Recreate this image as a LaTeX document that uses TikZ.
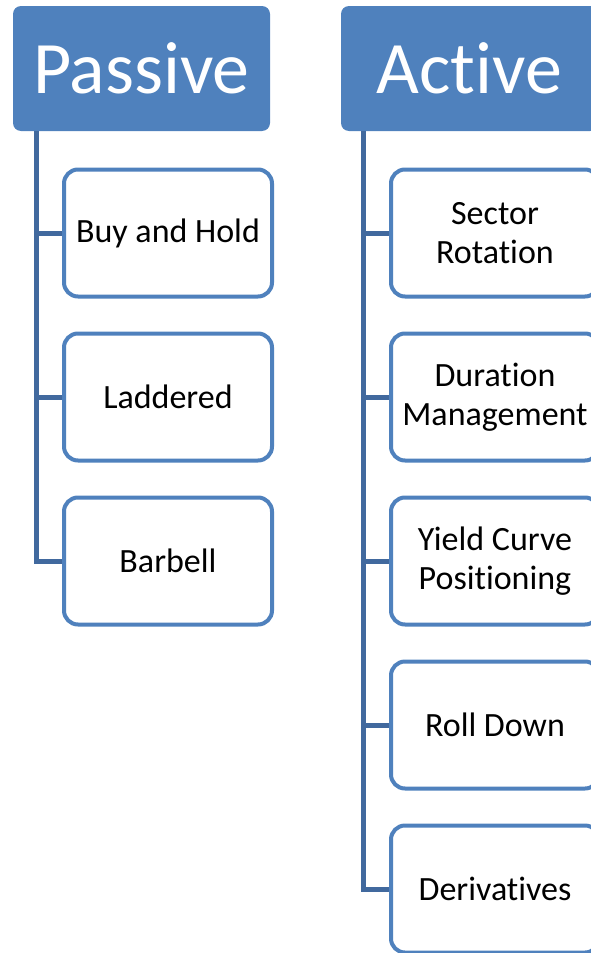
\documentclass[tikz,border=0pt]{standalone}
\usepackage{fontspec}
\setmainfont{Carlito}[Ligatures={NoCommon,NoRequired,NoContextual}]
\usetikzlibrary{positioning}
\definecolor{hdrblue}{HTML}{4F81BD}
\definecolor{treeblue}{HTML}{41699E}

\begin{document}
\begin{tikzpicture}[x=1pt, y=-1pt,
    header/.style={rounded corners=8pt, fill=hdrblue, text=white, inner sep=0pt,
      minimum width=257pt, minimum height=125pt, font=\fontsize{74}{80}\selectfont},
    item/.style={draw=hdrblue, line width=4pt, rounded corners=14pt, fill=white,
      inner sep=0pt, minimum width=208pt, minimum height=127pt, align=center,
      font=\fontsize{34}{39}\selectfont},
    branch/.style={draw=treeblue, line width=5pt}]
    \useasboundingbox (0,0) rectangle (591,953);
    \clip (0,0) rectangle (591,953);
    % Headers
    \node[header] (passive) at (141.5,68.5) {Passive};
    \node[header] (active) at (469.5,68.5) {Active};
    % Passive strategies
    \node[item] (buyhold) at (168,233) {Buy and Hold};
    \node[item] (laddered) at (168,397) {Laddered};
    \node[item] (barbell) at (168,561) {Barbell};
    % Active strategies
    \node[item] (sector) at (495,233) {Sector\\Rotation};
    \node[item] (duration) at (495,397) {Duration\\Management};
    \node[item] (yieldcurve) at (495,561) {Yield Curve\\Positioning};
    \node[item] (rolldown) at (495,725) {Roll Down};
    \node[item] (derivatives) at (495,889) {Derivatives};
    % Tree lines
    \draw[branch] ([xshift=24pt]passive.south west) |- (buyhold.west);
    \draw[branch] ([xshift=24pt]passive.south west) |- (laddered.west);
    \draw[branch] ([xshift=24pt]passive.south west) |- (barbell.west);
    \draw[branch] ([xshift=23pt]active.south west) |- (sector.west);
    \draw[branch] ([xshift=23pt]active.south west) |- (duration.west);
    \draw[branch] ([xshift=23pt]active.south west) |- (yieldcurve.west);
    \draw[branch] ([xshift=23pt]active.south west) |- (rolldown.west);
    \draw[branch] ([xshift=23pt]active.south west) |- (derivatives.west);
\end{tikzpicture}
\end{document}
